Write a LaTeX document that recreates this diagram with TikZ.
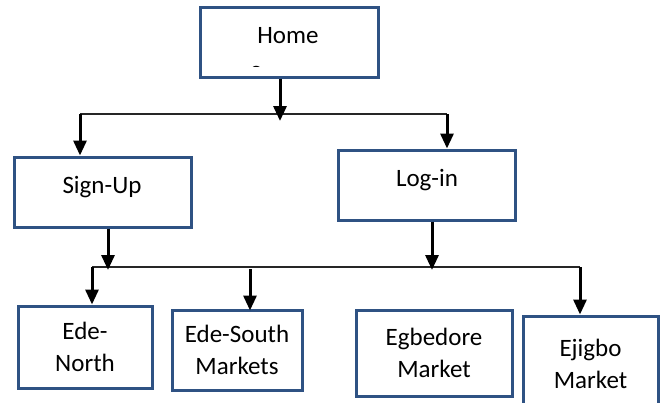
\documentclass[tikz,border=0pt]{standalone}
\usepackage{fontspec}
\setmainfont{Carlito}
\usetikzlibrary{positioning,arrows.meta,calc}

\definecolor{boxblue}{HTML}{2F5283}

\tikzset{
  page/.style={box/.style={draw=boxblue, line width=3pt, fill=white, align=center,
    inner sep=0pt, font=\fontsize{25}{32}\selectfont}},
  label/.style={font=\fontsize{25}{30}\selectfont},
  arr/.style={line width=3pt, -{Triangle[length=15pt,width=13pt]}},
  bus/.style={line width=1.6pt, draw=black!85}
}

\begin{document}
\begin{tikzpicture}[x=1pt, y=-1pt, page]
    \useasboundingbox (0,0) rectangle (660,402);
    % top level
    \node[box, minimum width=178pt, minimum height=70pt] (home) at (289,42) {};
    \node[label] (hometxt) at (288,36) {Home};
    \begin{scope}
        \clip (200,50) rectangle (378,66);
        \node[label, anchor=base west, inner sep=0pt] (scr) at (250,82) {Screen};
    \end{scope}
    % second level
    \node[box, minimum width=177pt, minimum height=70pt] (signup) at (102.5,192) {};
    \node[label] (signuptxt) at (102,187) {Sign-Up};
    \node[box, minimum width=177pt, minimum height=70pt] (login) at (426.5,185) {};
    \node[label] (logintxt) at (427,180) {Log-in};
    % markets
    \node[box, minimum width=134pt, minimum height=82pt] (edenorth) at (85,347) {Ede-\\North};
    \node[box, minimum width=130pt, minimum height=80pt] (edesouth) at (237,350) {Ede-South\\Markets};
    \node[box, minimum width=156pt, minimum height=86pt] (egbedore) at (434,353) {Egbedore\\Market};
    \node[box, minimum width=135pt, minimum height=96pt] (ejigbo) at (590.5,364) {Ejigbo\\Market};

    % upper bus
    \coordinate (busL) at (80,114);
    \coordinate (busR) at (447,114);
    \coordinate (hub) at (280,121);
    \draw[bus] (busL) -- (busR);
    \draw[arr] (hub |- home.south) -- (hub);
    \draw[arr] (busL) -- (busL |- signup.north);
    \draw[arr] (busR) -- (busR |- login.north);

    % lower bus
    \coordinate (lowL) at (92,267);
    \coordinate (lowR) at (580,267);
    \coordinate (hubL) at (108,270);
    \coordinate (hubR) at (432,270);
    \coordinate (south) at (250,269);
    \draw[bus] (lowL) -- (lowR);
    \draw[arr] (hubL |- signup.south) -- (hubL);
    \draw[arr] (hubR |- login.south) -- (hubR);
    \draw[arr] (lowL) -- (lowL |- edenorth.north);
    \draw[arr] (south) -- ([yshift=-2pt]south |- edesouth.north);
    \draw[arr] (lowR) -- (lowR |- ejigbo.north);
\end{tikzpicture}
\end{document}
